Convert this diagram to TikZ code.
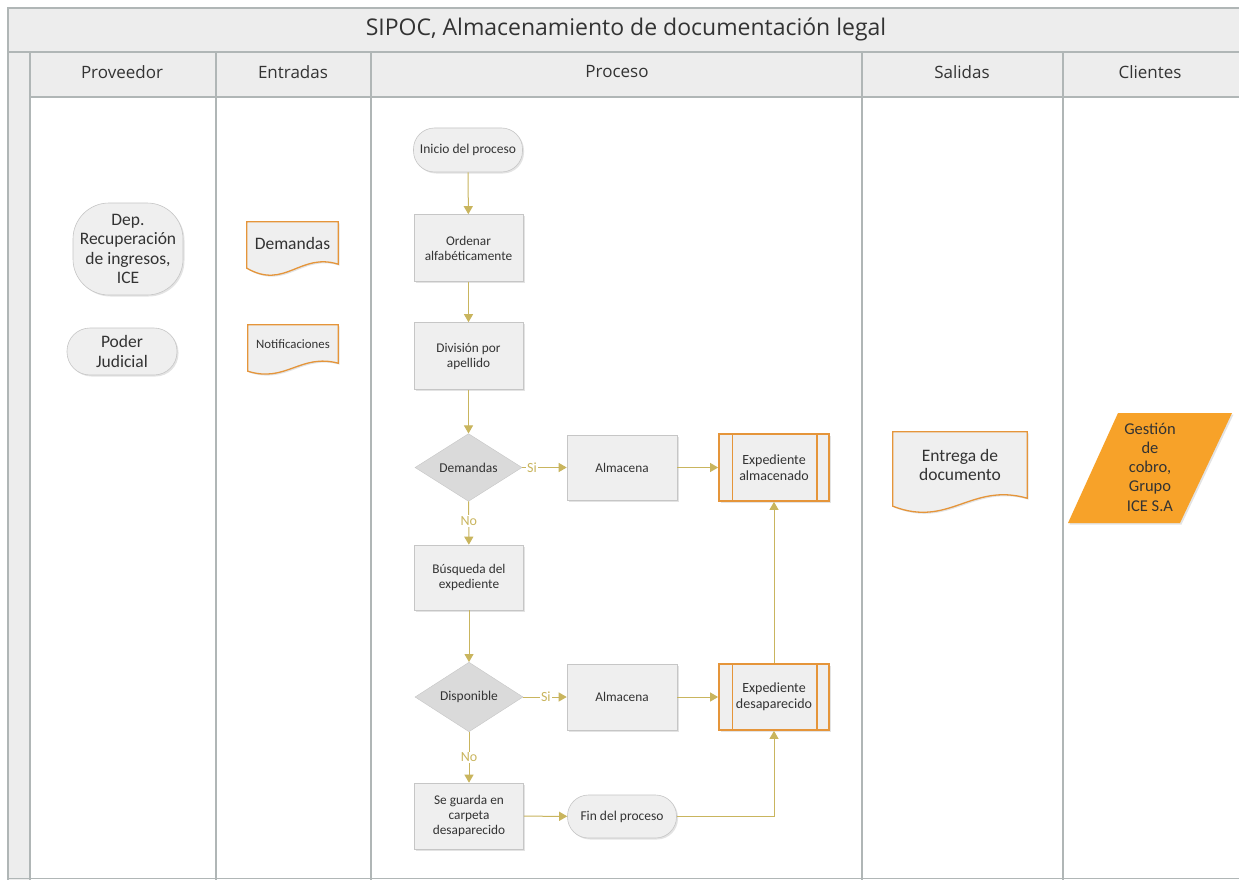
\documentclass[tikz,border=0pt]{standalone}
\usepackage{fontspec}
\setmainfont{Carlito}
\newfontfamily\hdrfont{Open Sans}
\usetikzlibrary{arrows.meta,shapes.geometric,calc,shadows}
\pgfdeclarelayer{lanes}
\pgfdeclarelayer{shapes}
\pgfsetlayers{lanes,shapes,main}
\definecolor{frameline}{HTML}{B0B6B6}
\definecolor{hdrfill}{HTML}{EDEDED}
\definecolor{boxfill}{HTML}{EFEFEF}
\definecolor{boxline}{HTML}{C6C6C6}
\definecolor{diafill}{HTML}{DADADA}
\definecolor{arrowc}{HTML}{C9B55E}
\definecolor{orangeline}{HTML}{E5953A}
\definecolor{orangefill}{HTML}{F7A229}
\definecolor{txt}{HTML}{333333}
\tikzset{
  base/.style={align=center, text=txt, inner sep=0pt},
  shade/.style={drop shadow={opacity=0.22, shadow xshift=1.5pt, shadow yshift=-1.5pt}},
  procbox/.style={base, rectangle, fill=boxfill, draw=boxline, line width=0.6pt,
    minimum width=110pt, minimum height=66pt, font=\fontsize{13.3}{15}\selectfont, shade},
  termbox/.style={base, rectangle, rounded corners=21pt, fill=boxfill, draw=boxline, line width=0.6pt,
    minimum width=110pt, minimum height=43pt, font=\fontsize{13.5}{15}\selectfont, shade},
  provbox/.style={base, rectangle, fill=boxfill, draw=boxline, line width=0.6pt,
    minimum width=110pt, font=\fontsize{17.5}{19.5}\selectfont, shade},
  diabox/.style={base, diamond, fill=diafill, draw=boxline, line width=0.4pt,
    minimum width=107pt, minimum height=65pt, font=\fontsize{13.5}{15}\selectfont},
  ppbox/.style={base, rectangle, fill=boxfill, draw=orangeline, line width=1.8pt,
    minimum width=110pt, minimum height=66pt, font=\fontsize{14}{15.5}\selectfont, shade},
  docnode/.style={base, rectangle},
  docline/.style={fill=boxfill, draw=orangeline, line width=1.3pt, shade},
  arr/.style={draw=arrowc, line width=1pt, -{Triangle[width=9pt,length=8pt]}},
  lbl/.style={fill=white, text=arrowc, inner sep=1.2pt, font=\fontsize{14}{15}\selectfont},
  hdr/.style={font=\hdrfont\fontsize{17}{20}\selectfont, text=txt},
  lane/.style={draw=frameline, line width=1.2pt}
}
% document shape under a node: #1 name, #2 crest, #3 trough, #4 left drop
\newcommand\docshape[4]{%
  \path[docline] (#1.north west) -- (#1.north east) -- (#1.south east)
    .. controls ($(#1.south east)!0.42!(#1.south west)+(0,-#2)$)
       and ($(#1.south west)!0.42!(#1.south east)+(0,#3)$) ..
    ($(#1.south west)+(0,#4)$) -- cycle;}
\begin{document}
\begin{tikzpicture}[x=1pt,y=-1pt]
\useasboundingbox (0,0) rectangle (1239,880);
\clip (0,0) rectangle (1239,880);

% ---------- lanes ----------
\begin{pgfonlayer}{lanes}
  \fill[white] (0,0) rectangle (1239,880);
  \fill[hdrfill] (8,8) rectangle (1250,97);
  \fill[hdrfill] (8,97) rectangle (30,890);
  \draw[lane] (8,890) -- (8,8) -- (1250,8);
  \draw[lane] (8,52) -- (1250,52);
  \draw[lane] (30,52) -- (30,890);
  \draw[lane] (30,97) -- (1250,97);
  \draw[lane, line width=0.6pt] (8,878) -- (1250,878);
  \foreach \xx in {216,371,862,1063} \draw[lane] (\xx,52) -- (\xx,890);
\end{pgfonlayer}

\node[hdr, font=\hdrfont\fontsize{23}{26}\selectfont] (title) at (626,29) {SIPOC, Almacenamiento de documentación legal};
\node[hdr] (hprov) at (122,72) {Proveedor};
\node[hdr] (hent) at (293,72) {Entradas};
\node[hdr] (hproc) at (617,72) {Proceso};
\node[hdr] (hsal) at (962,72) {Salidas};
\node[hdr] (hcli) at (1150,72) {Clientes};

% ---------- Proveedor ----------
\node[provbox, minimum height=92pt, rounded corners=36pt] (dep) at (128,249)
  {Dep.\\Recuperación\\de ingresos,\\ICE};
\node[provbox, minimum height=47pt, rounded corners=23pt] (poder) at (122,351.5)
  {Poder\\Judicial};

% ---------- Entradas ----------
\node[docnode, minimum width=91pt, minimum height=42pt, font=\fontsize{17.5}{20}\selectfont] (dem) at (292.5,243) {Demandas};
\node[docnode, minimum width=90pt, minimum height=38pt, font=\fontsize{12.8}{14}\selectfont] (notif) at (293,344) {Notificaciones};

% ---------- Proceso ----------
\node[termbox, minimum width=109pt, minimum height=44pt] (inicio) at (468,150) {Inicio del proceso};
\node[procbox, minimum width=109pt, minimum height=67pt] (ordenar) at (468.5,248) {Ordenar\\alfabéticamente};
\node[procbox, minimum width=109pt, minimum height=67pt] (division) at (468.5,356) {División por\\apellido};
\node[diabox] (ddem) at (468.5,467.5) {Demandas};
\node[procbox, minimum height=65pt] (alm1) at (622,467.5) {Almacena};
\node[ppbox, minimum height=67pt] (expalm) at (774,467.5) {Expediente\\almacenado};
\node[procbox, minimum width=109pt, minimum height=65pt] (busq) at (469,577.5) {Búsqueda del\\expediente};
\node[diabox, minimum width=108pt, minimum height=64pt] (ddisp) at (469,697) {Disponible};
\node[procbox] (alm2) at (622,697) {Almacena};
\node[ppbox] (expdes) at (774,697) {Expediente\\desaparecido};
\node[procbox, minimum width=109pt] (guarda) at (469,816) {Se guarda en\\carpeta\\desaparecido};
\node[termbox, minimum width=109pt] (fin) at (622,816.5) {Fin del proceso};

\foreach \nn in {expalm,expdes}{
  \draw[orangeline, line width=1.2pt] ([xshift=14pt]\nn.north west) -- ([xshift=14pt]\nn.south west);
  \draw[orangeline, line width=1.2pt] ([xshift=-13pt]\nn.north east) -- ([xshift=-13pt]\nn.south east);
}

% ---------- Salidas ----------
\node[docnode, minimum width=134pt, minimum height=66pt, font=\fontsize{17.5}{19}\selectfont] (entrega) at (960,465) {Entrega de\\documento};

% ---------- Clientes ----------
\node[base, font=\fontsize{16.5}{19.3}\selectfont, text=black!80] (gestion) at (1150,467)
  {Gestión\\de\\cobro,\\Grupo\\ICE S.A};

% ---------- shapes drawn under the texts ----------
\begin{pgfonlayer}{shapes}
  \docshape{dem}{12}{26}{4}
  \docshape{notif}{10}{20}{8}
  \docshape{entrega}{16}{30}{8}
  \path[fill=orangefill, shade] ($(gestion)+(-32,-54)$) -- ($(gestion)+(82,-54)$)
    -- ($(gestion)+(30,56)$) -- ($(gestion)+(-82,56)$) -- cycle;
\end{pgfonlayer}

% ---------- connectors ----------
\draw[arr] (inicio) -- (ordenar);
\draw[arr] (ordenar) -- (division);
\draw[arr] (division) -- (ddem);
\draw[arr] (ddem) -- node[lbl, pos=0.22] {Si} (alm1);
\draw[arr] (alm1) -- (expalm);
\draw[arr] (ddem) -- node[lbl, pos=0.45] {No} (busq);
\draw[arr] (busq) -- (ddisp);
\draw[arr] (ddisp) -- node[lbl, pos=0.52] {Si} (alm2);
\draw[arr] (alm2) -- (expdes);
\draw[arr] (ddisp) -- node[lbl, pos=0.5] {No} (guarda);
\draw[arr] (guarda) -- (fin);
\draw[arr] (fin) -| (expdes);
\draw[arr] (expdes) -- (expalm);
\end{tikzpicture}
\end{document}
